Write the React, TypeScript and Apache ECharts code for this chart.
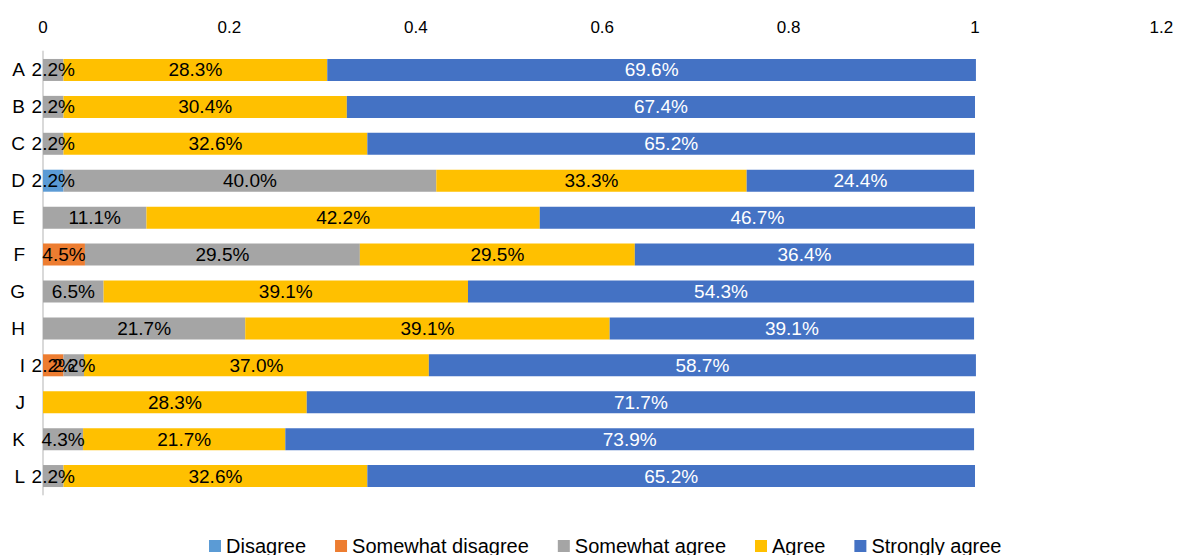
import React, { useEffect, useRef } from "react";
import * as echarts from "echarts";

const categories = ["A", "B", "C", "D", "E", "F", "G", "H", "I", "J", "K", "L"];
const disagree = [0, 0, 0, 0.022, 0, 0, 0, 0, 0, 0, 0, 0];
const somewhatDisagree = [0, 0, 0, 0, 0, 0.045, 0, 0, 0.022, 0, 0, 0];
const somewhatAgree = [0.022, 0.022, 0.022, 0.4, 0.111, 0.295, 0.065, 0.217, 0.022, 0, 0.043, 0.022];
const agree = [0.283, 0.304, 0.326, 0.333, 0.422, 0.295, 0.391, 0.391, 0.37, 0.283, 0.217, 0.326];
const stronglyAgree = [0.696, 0.674, 0.652, 0.244, 0.467, 0.364, 0.543, 0.391, 0.587, 0.717, 0.739, 0.652];
const xTicks = [0, 0.2, 0.4, 0.6, 0.8, 1, 1.2];

const FONT = "'Liberation Sans', Arial, sans-serif";

export default function App() {
  const ref = useRef<HTMLDivElement>(null);
  useEffect(() => {
    document.body.style.margin = "0";
    const chart = echarts.init(ref.current!, undefined, { renderer: "svg" });
    const mk = (name: string, data: number[], color: string, labelColor: string) => ({
      name,
      type: "bar",
      stack: "total",
      barWidth: 22,
      data: data.map((v) => (v === 0 ? null : v)),
      itemStyle: { color },
      label: {
        show: true,
        position: "inside",
        color: labelColor,
        fontSize: 19,
        fontFamily: FONT,
        formatter: (p: any) => (p.value ? (p.value * 100).toFixed(1) + "%" : ""),
      },
    });
    chart.setOption({
      animation: false,
      textStyle: { fontFamily: FONT },
      grid: { left: 43, right: 15.6, top: 51.5, bottom: 60.5, containLabel: false },
      xAxis: {
        type: "value",
        position: "top",
        min: 0,
        max: 1.2,
        interval: 0.2,
        axisLine: { show: false },
        axisTick: { show: false },
        splitLine: { show: false },
        axisLabel: {
          color: "#000",
          fontSize: 17,
          fontFamily: FONT,
          margin: 16,
          formatter: (v: number) => {
            const t = xTicks.find((x) => Math.abs(x - v) < 1e-9);
            return String(t !== undefined ? t : +v.toFixed(1));
          },
        },
      },
      yAxis: {
        type: "category",
        data: categories,
        inverse: true,
        axisLine: { show: true, lineStyle: { color: "#d9d9d9", width: 2 } },
        axisTick: { show: false },
        axisLabel: { color: "#000", fontSize: 19, fontFamily: FONT, margin: 18 },
      },
      legend: {
        left: 204,
        top: 531,
        itemWidth: 12,
        itemHeight: 12,
        itemGap: 29,
        icon: "rect",
        textStyle: { color: "#000", fontSize: 20, fontFamily: FONT, padding: [0, 0, 0, 0] },
        data: ["Disagree", "Somewhat disagree", "Somewhat agree", "Agree", "Strongly agree"],
      },
      series: [
        mk("Disagree", disagree, "#5B9BD5", "#000"),
        mk("Somewhat disagree", somewhatDisagree, "#ED7D31", "#000"),
        mk("Somewhat agree", somewhatAgree, "#A5A5A5", "#000"),
        mk("Agree", agree, "#FFC000", "#000"),
        mk("Strongly agree", stronglyAgree, "#4472C4", "#fff"),
      ],
    });
    return () => chart.dispose();
  }, []);
  return <div ref={ref} style={{ position: "absolute", left: 0, top: 0, width: 1177, height: 555 }} />;
}
